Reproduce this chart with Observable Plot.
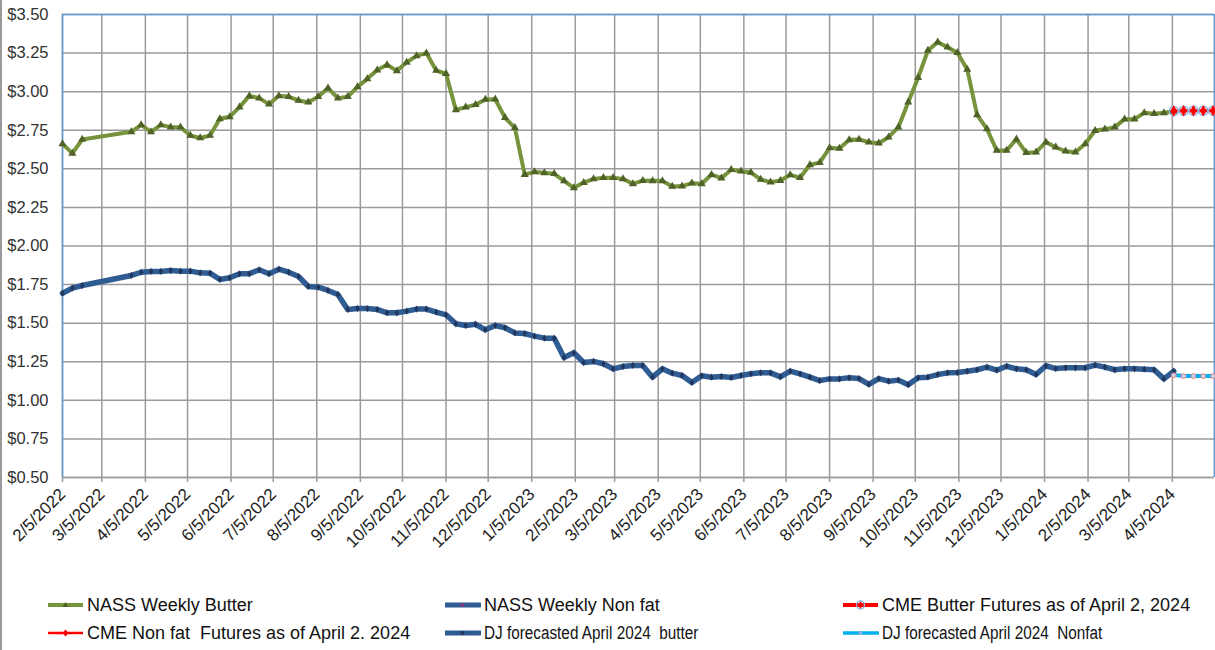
<!DOCTYPE html>
<html>
<head>
<meta charset="utf-8">
<script src="https://cdn.jsdelivr.net/npm/d3@7"></script>
<script src="https://cdn.jsdelivr.net/npm/@observablehq/plot@0.6"></script>
<style>
  html, body { margin: 0; padding: 0; background: #fff; }
  #wrap { position: relative; width: 1215px; height: 650px; overflow: hidden; background: #fff; }
  #leftBorder { position: absolute; left: 0; top: 0; width: 1.5px; height: 650px; background: #9a9a9a; }
  #legend { position: absolute; left: 0; top: 585px; width: 1215px; height: 65px;
            font-family: "Liberation Sans", Arial, sans-serif; font-size: 18px; color: #111; }
  .item { position: absolute; display: flex; align-items: center; height: 22px; white-space: pre; }
  .item svg { margin-right: 3px; flex: none; }
  .narrow span { display: inline-block; transform: scaleX(0.85); transform-origin: left center; }
</style>
</head>
<body>
<div id="wrap">
  <div id="chart"></div>
  <div id="legend"></div>
  <div id="leftBorder"></div>
</div>
<script>
// ---- data ----
const weekDates = [
  "2022-02-05","2022-02-12","2022-02-19",
  "2022-03-26","2022-04-02","2022-04-09","2022-04-16","2022-04-23","2022-04-30",
  "2022-05-07","2022-05-14","2022-05-21","2022-05-28","2022-06-04","2022-06-11","2022-06-18","2022-06-25",
  "2022-07-02","2022-07-09","2022-07-16","2022-07-23","2022-07-30","2022-08-06","2022-08-13","2022-08-20","2022-08-27",
  "2022-09-03","2022-09-10","2022-09-17","2022-09-24","2022-10-01","2022-10-08","2022-10-15","2022-10-22","2022-10-29",
  "2022-11-05","2022-11-12","2022-11-19","2022-11-26","2022-12-03","2022-12-10","2022-12-17","2022-12-24","2022-12-31",
  "2023-01-07","2023-01-14","2023-01-21","2023-01-28","2023-02-04","2023-02-11","2023-02-18","2023-02-25",
  "2023-03-04","2023-03-11","2023-03-18","2023-03-25","2023-04-01","2023-04-08","2023-04-15","2023-04-22","2023-04-29",
  "2023-05-06","2023-05-13","2023-05-20","2023-05-27","2023-06-03","2023-06-10","2023-06-17","2023-06-24",
  "2023-07-01","2023-07-08","2023-07-15","2023-07-22","2023-07-29","2023-08-05","2023-08-12","2023-08-19","2023-08-26",
  "2023-09-02","2023-09-09","2023-09-16","2023-09-23","2023-09-30","2023-10-07","2023-10-14","2023-10-21","2023-10-28",
  "2023-11-04","2023-11-11","2023-11-18","2023-11-25","2023-12-02","2023-12-09","2023-12-16","2023-12-23","2023-12-30",
  "2024-01-06","2024-01-13","2024-01-20","2024-01-27","2024-02-03","2024-02-10","2024-02-17","2024-02-24",
  "2024-03-02","2024-03-09","2024-03-16","2024-03-23","2024-03-30","2024-04-06"
];
const nassButter = [
  2.662,2.600,2.690,
  2.740,2.785,2.740,2.785,2.770,2.770,
  2.716,2.700,2.716,2.824,2.837,2.900,2.973,2.958,
  2.919,2.973,2.967,2.943,2.932,2.967,3.023,2.958,2.967,
  3.031,3.083,3.140,3.174,3.135,3.190,3.232,3.250,3.137,
  3.116,2.882,2.900,2.915,2.949,2.951,2.831,2.766,2.463,
  2.480,2.474,2.468,2.422,2.377,2.411,2.435,2.442,
  2.442,2.435,2.403,2.424,2.422,2.422,2.386,2.388,2.407,
  2.403,2.463,2.440,2.494,2.485,2.476,2.431,2.414,
  2.424,2.461,2.442,2.526,2.540,2.636,2.632,2.688,2.690,
  2.673,2.666,2.705,2.770,2.932,3.090,3.267,3.321,3.288,
  3.252,3.144,2.850,2.759,2.619,2.619,2.692,2.604,2.608,
  2.673,2.640,2.614,2.608,2.662,2.748,2.757,2.770,
  2.822,2.822,2.863,2.857,2.863,2.873
];
const nassNonfat = [
  1.694,1.727,1.744,
  1.809,1.830,1.835,1.835,1.841,1.837,
  1.837,1.826,1.824,1.783,1.794,1.820,1.820,1.846,
  1.820,1.850,1.830,1.802,1.738,1.733,1.712,1.686,1.589,
  1.595,1.595,1.589,1.567,1.567,1.578,1.591,1.591,1.571,
  1.554,1.496,1.485,1.493,1.457,1.485,1.470,1.437,1.433,
  1.416,1.403,1.403,1.277,1.308,1.245,1.252,1.237,
  1.204,1.219,1.226,1.226,1.150,1.204,1.176,1.161,1.116,
  1.159,1.150,1.154,1.148,1.161,1.172,1.178,1.178,
  1.152,1.189,1.172,1.150,1.128,1.139,1.139,1.146,1.141,
  1.104,1.141,1.124,1.131,1.101,1.146,1.150,1.167,1.178,
  1.180,1.189,1.198,1.215,1.195,1.221,1.204,1.198,1.167,
  1.224,1.206,1.211,1.211,1.211,1.228,1.215,1.198,
  1.204,1.204,1.202,1.198,1.139,1.189
];
const futureDates = ["2024-04-06","2024-04-13","2024-04-20","2024-04-27","2024-05-04"];
const cmeButter  = [2.875,2.876,2.876,2.876,2.877];
const djButter   = [2.875,2.875,2.875,2.875,2.875];
const cmeNonfat  = [1.162,1.157,1.157,1.157,1.157];
const djNonfat   = [1.165,1.157,1.157,1.157,1.157];

const monthTicks = [
  "2022-02-05","2022-03-05","2022-04-05","2022-05-05","2022-06-05","2022-07-05","2022-08-05","2022-09-05",
  "2022-10-05","2022-11-05","2022-12-05","2023-01-05","2023-02-05","2023-03-05","2023-04-05","2023-05-05",
  "2023-06-05","2023-07-05","2023-08-05","2023-09-05","2023-10-05","2023-11-05","2023-12-05","2024-01-05",
  "2024-02-05","2024-03-05","2024-04-05"
];
const gridEnd = "2024-05-05";
const yTicks = [0.5,0.75,1.0,1.25,1.5,1.75,2.0,2.25,2.5,2.75,3.0,3.25,3.5];

const legendItems = [
  {label: "NASS Weekly Butter", key: "butter"},
  {label: "NASS Weekly Non fat", key: "nonfat"},
  {label: "CME Butter Futures as of April 2, 2024", key: "cmeButter"},
  {label: "CME Non fat  Futures as of April 2. 2024", key: "cmeNonfat"},
  {label: "DJ forecasted April 2024  butter", key: "djButter", narrow: true},
  {label: "DJ forecasted April 2024  Nonfat", key: "djNonfat", narrow: true}
];

// ---- build ----
const toDate = s => new Date(s + "T00:00:00Z");
const series = (ds, vs) => ds.map((d, i) => ({date: toDate(d), value: vs[i]}));
const butterData = series(weekDates, nassButter);
const nonfatData = series(weekDates, nassNonfat);
const cmeButterData = series(futureDates, cmeButter);
const djButterData = series(futureDates, djButter);
const cmeNonfatData = series(futureDates, cmeNonfat);
const djNonfatData = series(futureDates, djNonfat);
const tickDates = monthTicks.map(toDate);
const gridDates = [...monthTicks, gridEnd].map(toDate);
const fmtDate = d => `${d.getUTCMonth() + 1}/${d.getUTCDate()}/${d.getUTCFullYear()}`;

const C = {
  butter: "#77933C", butterMark: "#4F6228",
  nonfat: "#2F5C92", nonfatMark: "#22365C",
  red: "#FF0000", light: "#00B0F0", axisBlue: "#5B9BD5", grid: "#9a9a9a"
};

const chart = Plot.plot({
  width: 1215,
  height: 585,
  marginLeft: 62,
  marginRight: 1,
  marginTop: 14,
  marginBottom: 108,
  x: {type: "utc", domain: [toDate(monthTicks[0]), toDate(gridEnd)]},
  y: {domain: [0.5, 3.5]},
  style: {fontFamily: "Liberation Sans, Arial, sans-serif", fontSize: "16px", color: "#222", background: "white", overflow: "visible"},
  marks: [
    Plot.gridY(yTicks, {stroke: C.grid, strokeOpacity: 1, strokeWidth: 1.5}),
    Plot.gridX(gridDates, {stroke: C.grid, strokeOpacity: 1, strokeWidth: 1.5}),
    Plot.ruleY([0.5], {stroke: C.grid, strokeWidth: 1.5}),
    Plot.ruleY([3.5], {stroke: C.axisBlue, strokeWidth: 1.5}),
    Plot.ruleX([toDate(monthTicks[0])], {stroke: C.axisBlue, strokeWidth: 1.5}),
    Plot.ruleX([toDate(gridEnd)], {stroke: C.axisBlue, strokeWidth: 1.5}),
    Plot.axisY(yTicks, {tickSize: 0, tickPadding: 14, tickFormat: d => "$" + d.toFixed(2), label: null, fontSize: 16.5, fill: "#333"}),
    Plot.axisX(tickDates, {tickSize: 5, tickPadding: 9, tickRotate: -45, tickFormat: fmtDate, label: null, fontSize: 17, stroke: C.grid, strokeWidth: 1.5, fill: "#222"}),
    // NASS butter
    Plot.line(butterData, {x: "date", y: "value", stroke: C.butter, strokeWidth: 4}),
    Plot.dot(butterData, {x: "date", y: "value", symbol: "triangle", r: 3, fill: C.butterMark}),
    // NASS nonfat
    Plot.line(nonfatData, {x: "date", y: "value", stroke: C.nonfat, strokeWidth: 5.5}),
    Plot.dot(nonfatData, {x: "date", y: "value", symbol: "diamond", r: 2.2, fill: C.nonfatMark}),
    // DJ butter (under CME)
    Plot.line(djButterData, {x: "date", y: "value", stroke: C.nonfat, strokeWidth: 2}),
    // CME butter
    Plot.line(cmeButterData, {x: "date", y: "value", stroke: C.red, strokeWidth: 3}),
    Plot.dot(cmeButterData, {x: "date", y: "value", symbol: "circle", r: 4.5, fill: "none", stroke: "#8EB4E3", strokeWidth: 1.5}),
    Plot.dot(cmeButterData, {x: "date", y: "value", symbol: "diamond", r: 3.5, fill: C.red}),
    // CME nonfat + DJ nonfat
    Plot.line(cmeNonfatData, {x: "date", y: "value", stroke: C.red, strokeWidth: 2}),
    Plot.line(djNonfatData, {x: "date", y: "value", stroke: C.light, strokeWidth: 4}),
    Plot.dot(cmeNonfatData, {x: "date", y: "value", symbol: "circle", r: 2.4, fill: "#BDD7EE", stroke: "#F08080", strokeWidth: 1})
  ]
});
document.getElementById("chart").appendChild(chart);

// ---- legend ----
const swatch = {
  butter: `<line x1="0" y1="6" x2="35" y2="6" stroke="${C.butter}" stroke-width="4"/><path d="M17.5,3 L20.5,8 L14.5,8 Z" fill="${C.butterMark}"/>`,
  nonfat: `<line x1="0" y1="6" x2="35" y2="6" stroke="${C.nonfat}" stroke-width="5" stroke-linecap="round"/><circle cx="17.5" cy="6" r="2" fill="#7a3a7a"/>`,
  cmeButter: `<line x1="0" y1="6" x2="35" y2="6" stroke="${C.red}" stroke-width="4"/><circle cx="17.5" cy="6" r="4" fill="none" stroke="#8EB4E3" stroke-width="1.3"/><path d="M17.5,2.5 L20.5,6 L17.5,9.5 L14.5,6 Z" fill="${C.red}"/>`,
  cmeNonfat: `<line x1="0" y1="6" x2="35" y2="6" stroke="${C.red}" stroke-width="2.5"/><path d="M17.5,2.5 L20.5,6 L17.5,9.5 L14.5,6 Z" fill="${C.red}"/>`,
  djButter: `<line x1="0" y1="6" x2="35" y2="6" stroke="${C.nonfat}" stroke-width="5" stroke-linecap="round"/><circle cx="17.5" cy="6" r="2" fill="${C.nonfatMark}"/>`,
  djNonfat: `<line x1="0" y1="6" x2="35" y2="6" stroke="${C.light}" stroke-width="3.5" stroke-linecap="round"/><circle cx="17.5" cy="6" r="2" fill="#8EB4E3"/>`
};
const pos = [
  {x: 48, y: 9}, {x: 445, y: 9}, {x: 843, y: 9},
  {x: 48, y: 37}, {x: 445, y: 37}, {x: 843, y: 37}
];
const legend = document.getElementById("legend");
legendItems.forEach((it, i) => {
  const div = document.createElement("div");
  div.className = "item" + (it.narrow ? " narrow" : "");
  div.style.left = pos[i].x + "px";
  div.style.top = pos[i].y + "px";
  div.innerHTML = `<svg width="36" height="12">${swatch[it.key]}</svg><span>${it.label}</span>`;
  legend.appendChild(div);
});
</script>
</body>
</html>
